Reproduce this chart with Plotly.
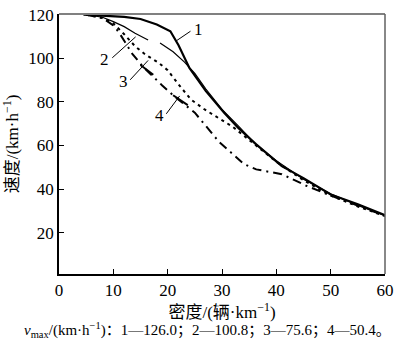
import plotly.graph_objects as go

# density (veh/km) and speed (km/h)
x1 = [4.5, 8, 12, 15, 18, 20.5, 22, 24, 27, 30.4, 33, 36.3, 41, 45, 50, 55, 60]
y1 = [120, 119.6, 119, 118, 115.5, 112.4, 106, 95.5, 85, 75, 68, 60.5, 50.5, 45, 37.5, 33, 28]

x2 = [5, 8, 10, 12, 14, 16.4, None, 18.6, 21, 23.1, 25, 27, 30, 33, 36, 40, 45, 50, 55, 60]
y2 = [120, 118.8, 116.8, 114.5, 111.5, 108.4, None, 107, 103, 98.2, 93, 86, 76.5, 69, 61, 53, 44.5, 37.8, 32.5, 27.8]

x3 = [5, 8, 10, 12, 14, 16, 18.3, 20, 22, 24.3, 26.8, 29.7, 32, 34, 36, 40, 45, 50, 55, 60]
y3 = [120, 118.5, 116, 111, 105.5, 101.5, 98, 94.5, 88, 81, 76.5, 72, 68.5, 64.5, 60.5, 52.5, 44, 37, 32, 27.6]

x4 = [5, 8, 10, 11, 12, 13.5, 15.5, 17.5, 19, 21, 23, 25, 27, 29.5, 32, 34, 36.3, 38.7, 41, 43, 45.5, 50, 55, 60]
y4 = [120, 118.5, 115, 112, 108, 102, 96, 91, 87.5, 83, 79, 75, 69, 61.5, 56, 51.5, 49, 48, 46.8, 44.5, 41.5, 37, 32.3, 27.7]

xticks = [0, 10, 20, 30, 40, 50, 60]
yticks = [20, 40, 60, 80, 100, 120]

SERIF = "Liberation Serif"
FONT = "Liberation Serif, Noto Sans CJK SC"

fig = go.Figure()
fig.add_trace(go.Scatter(x=x1, y=y1, mode="lines", line=dict(color="black", width=2.2), connectgaps=False))
fig.add_trace(go.Scatter(x=x2, y=y2, mode="lines", line=dict(color="black", width=1.2), connectgaps=False))
fig.add_trace(go.Scatter(x=x3, y=y3, mode="lines", line=dict(color="black", width=2, dash="3px,4px")))
fig.add_trace(go.Scatter(x=x4, y=y4, mode="lines", line=dict(color="black", width=2, dash="9px,5px,2px,5px")))

shapes = []
def seg(xa, ya, xb, yb, w=1):
    shapes.append(dict(type="line", xref="x", yref="y", x0=xa, y0=ya, x1=xb, y1=yb,
                       line=dict(color="black", width=w)))

# leader lines
seg(21.6, 108, 24.2, 112.4)
seg(9.8, 100.2, 14.1, 109.8)
seg(13.1, 90.1, 16.4, 99)
seg(15.0, 96.9, 17.35, 92.4, 2)
seg(19.75, 74.5, 22.2, 82.7)
seg(21.0, 83, 23.7, 78.5, 2)

# frame top / right in grey
shapes.append(dict(type="line", xref="paper", yref="paper", x0=0, y0=1, x1=1, y1=1,
                   line=dict(color="#808080", width=2)))
shapes.append(dict(type="line", xref="paper", yref="paper", x0=1, y0=0, x1=1, y1=1,
                   line=dict(color="#606060", width=1.5)))

annotations = []
for txt, ax_, ay_ in [("1", 25.6, 113), ("2", 8.3, 99.3), ("3", 11.9, 89.3), ("4", 18.55, 73.8)]:
    annotations.append(dict(x=ax_, y=ay_, xref="x", yref="y", text=txt, showarrow=False,
                            font=dict(family=SERIF, size=17, color="black")))

annotations.append(dict(x=0.455, y=-0.215, xref="paper", yref="paper", yanchor="middle",
                        text="<i>v</i><sub>max</sub>/(km·h<sup>−1</sup>)：1—126.0；2—100.8；3—75.6；4—50.4。",
                        showarrow=False, font=dict(family=FONT, size=15, color="black")))

fig.update_layout(
    width=400, height=343,
    margin=dict(l=59, r=9, t=6, b=69),
    paper_bgcolor="white", plot_bgcolor="white",
    showlegend=False,
    shapes=shapes, annotations=annotations,
    font=dict(family=FONT, size=16, color="black"),
)
fig.update_xaxes(range=[0, 60], tickvals=xticks, ticks="inside", ticklen=5, tickcolor="black",
                 showline=True, linecolor="black", linewidth=1.5, showgrid=False, zeroline=False,
                 tickfont=dict(family=SERIF, size=17, color="black"), ticklabeloverflow="allow",
                 title=dict(text="密度/(辆·km<sup>−1</sup>)", font=dict(family=FONT, size=17, color="black"), standoff=2))
fig.update_yaxes(range=[1, 120.3], tickvals=yticks, ticks="inside", ticklen=5, tickcolor="black",
                 showline=True, linecolor="black", linewidth=1.5, showgrid=False, zeroline=False,
                 tickfont=dict(family=SERIF, size=17, color="black"), ticklabeloverflow="allow",
                 title=dict(text="速度/(km·h<sup>−1</sup>)", font=dict(family=FONT, size=17, color="black"), standoff=6))

fig.write_html("out.html")
